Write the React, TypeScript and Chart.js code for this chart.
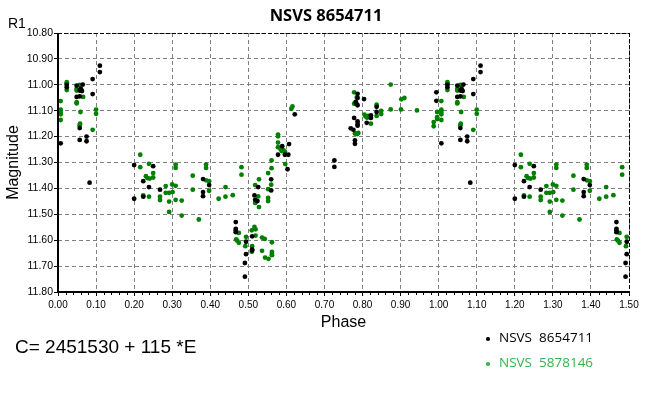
import React, { useEffect, useRef } from "react";
import { Chart, registerables } from "chart.js";

Chart.register(...registerables);

const TITLE = "NSVS 8654711";
const Y_LABEL = "R1";
const Y_TITLE = "Magnitude";
const X_TITLE = "Phase";
const EPOCH_TEXT = "C= 2451530 + 115 *E";
const SERIES_NAMES = ["NSVS  8654711", "NSVS  5878146"];
const X_MIN = 0;
const X_MAX = 1.5;
const Y_MIN = 10.8;
const Y_MAX = 11.8;
const MINOR_STEP = 0.02;

// NSVS 8654711 (black), phase in [0,1)
const blackPhase = [
  0.007, 0.023, 0.023, 0.049, 0.049, 0.057, 0.057, 0.060, 0.063, 0.065,
  0.057, 0.057, 0.075, 0.075, 0.083, 0.091, 0.091, 0.110, 0.110, 0.200,
  0.200, 0.224, 0.224, 0.239, 0.250, 0.268, 0.381, 0.381, 0.381, 0.397,
  0.467, 0.467, 0.467, 0.467, 0.491, 0.491, 0.494, 0.494, 0.510, 0.510,
  0.510, 0.516, 0.518, 0.524, 0.526, 0.560, 0.560, 0.578, 0.589, 0.596,
  0.605, 0.607, 0.603, 0.622, 0.726, 0.726, 0.769, 0.776, 0.778, 0.780,
  0.780, 0.782, 0.784, 0.787, 0.787, 0.787, 0.787, 0.787, 0.787, 0.804,
  0.811, 0.822, 0.822, 0.837, 0.837, 0.994, 0.994,
];
const blackMag = [
  11.226, 11.000, 11.009, 11.003, 11.047, 11.045, 11.022, 11.015, 11.024, 10.999,
  11.167, 11.213, 11.200, 11.218, 11.378, 10.978, 11.036, 10.926, 10.951, 11.310,
  11.440, 11.372, 11.432, 11.395, 11.314, 11.405, 11.364, 11.414, 11.430, 11.387,
  11.530, 11.556, 11.563, 11.569, 11.688, 11.741, 11.606, 11.654, 11.585, 11.636,
  11.640, 11.427, 11.444, 11.449, 11.395, 11.365, 11.408, 11.270, 11.237, 11.270,
  11.270, 11.229, 11.326, 11.114, 11.292, 11.317, 11.168, 11.174, 11.128, 11.215,
  11.228, 11.066, 11.073, 11.035, 11.051, 11.079, 11.141, 11.151, 11.158, 11.055,
  11.147, 11.118, 11.128, 11.085, 11.105, 11.029, 11.062,
];

// NSVS 5878146 (green), phase in [0,1)
const greenPhase = [
  0.007, 0.007, 0.007, 0.007, 0.007, 0.023, 0.023, 0.023, 0.049, 0.049,
  0.049, 0.049, 0.057, 0.059, 0.058, 0.057, 0.066, 0.091, 0.100, 0.100,
  0.216, 0.216, 0.231, 0.235, 0.239, 0.241, 0.250, 0.250, 0.224, 0.239,
  0.268, 0.268, 0.283, 0.283, 0.292, 0.292, 0.292, 0.300, 0.309, 0.301,
  0.309, 0.309, 0.309, 0.325, 0.325, 0.354, 0.354, 0.370, 0.389, 0.389,
  0.389, 0.397, 0.397, 0.422, 0.440, 0.440, 0.459, 0.482, 0.482, 0.468,
  0.471, 0.475, 0.475, 0.492, 0.494, 0.509, 0.509, 0.510, 0.516, 0.519,
  0.519, 0.518, 0.518, 0.526, 0.528, 0.528, 0.536, 0.543, 0.536, 0.544,
  0.553, 0.552, 0.552, 0.552, 0.552, 0.560, 0.561, 0.561, 0.562, 0.562,
  0.562, 0.562, 0.578, 0.578, 0.578, 0.578, 0.585, 0.588, 0.592, 0.596,
  0.597, 0.613, 0.616, 0.778, 0.778, 0.785, 0.780, 0.786, 0.789, 0.805,
  0.808, 0.812, 0.815, 0.822, 0.837, 0.837, 0.849, 0.849, 0.874, 0.874,
  0.902, 0.910, 0.901, 0.943, 0.987, 0.987, 0.996, 0.996, 0.996,
];
const greenMag = [
  11.063, 11.096, 11.105, 11.114, 11.136, 10.990, 10.996, 11.020, 11.015, 11.022,
  11.067, 11.072, 11.000, 11.105, 11.150, 11.156, 11.047, 11.174, 11.096, 11.112,
  11.270, 11.318, 11.353, 11.360, 11.305, 11.362, 11.358, 11.341, 11.427, 11.432,
  11.432, 11.445, 11.391, 11.417, 11.417, 11.451, 11.491, 11.385, 11.390, 11.414,
  11.308, 11.321, 11.444, 11.447, 11.505, 11.351, 11.405, 11.520, 11.308, 11.321,
  11.369, 11.372, 11.409, 11.440, 11.395, 11.432, 11.426, 11.318, 11.347, 11.597,
  11.602, 11.572, 11.610, 11.623, 11.587, 11.562, 11.645, 11.623, 11.549, 11.558,
  11.582, 11.387, 11.456, 11.431, 11.365, 11.472, 11.590, 11.595, 11.641, 11.667,
  11.672, 11.341, 11.403, 11.437, 11.449, 11.386, 11.292, 11.322, 11.608, 11.645,
  11.652, 11.658, 11.192, 11.199, 11.223, 11.241, 11.250, 11.256, 11.252, 11.258,
  11.306, 11.092, 11.083, 11.029, 11.073, 11.049, 11.188, 11.190, 11.186, 11.115,
  11.122, 11.127, 11.120, 11.150, 11.077, 11.120, 11.101, 11.113, 10.999, 11.095,
  11.056, 11.051, 11.095, 11.099, 11.144, 11.160, 11.105, 11.125, 11.132,
];

// Phase-folded plot: each observation shown at phase p and again at p + 1 (within range)
function foldPoints(phase: number[], mag: number[]) {
  const pts: { x: number; y: number }[] = [];
  phase.forEach((p, i) => {
    pts.push({ x: p, y: mag[i] });
    if (p + 1 <= X_MAX) pts.push({ x: p + 1, y: mag[i] });
  });
  return pts;
}

const framePlugin = {
  id: "frame",
  afterDraw(chart: any) {
    const { ctx, chartArea: a, scales } = chart;
    ctx.save();
    // dashed top & right border
    ctx.strokeStyle = "#000";
    ctx.lineWidth = 1;
    ctx.setLineDash([4, 2]);
    ctx.beginPath();
    ctx.moveTo(a.left, a.top + 0.5);
    ctx.lineTo(a.right, a.top + 0.5);
    ctx.moveTo(a.right + 0.5, a.top);
    ctx.lineTo(a.right + 0.5, a.bottom);
    ctx.stroke();
    // solid left & bottom axes
    ctx.setLineDash([]);
    ctx.lineWidth = 2;
    ctx.beginPath();
    ctx.moveTo(a.left, a.top);
    ctx.lineTo(a.left, a.bottom);
    ctx.lineTo(a.right + 1, a.bottom);
    ctx.stroke();
    // minor ticks on x axis
    const xs = scales.x;
    ctx.lineWidth = 1;
    ctx.beginPath();
    const n = Math.round((X_MAX - X_MIN) / MINOR_STEP);
    for (let i = 0; i <= n; i++) {
      if (i % 5 === 0) continue;
      const px = Math.round(xs.getPixelForValue(X_MIN + i * MINOR_STEP)) + 0.5;
      ctx.moveTo(px, a.bottom);
      ctx.lineTo(px, a.bottom + 3);
    }
    ctx.stroke();
    ctx.restore();
  },
};

export default function App() {
  const ref = useRef<HTMLCanvasElement | null>(null);

  useEffect(() => {
    if (!ref.current) return;
    const tickFont = { family: "'Liberation Sans', Arial, sans-serif", size: 10.5 };
    const chart = new Chart(ref.current, {
      type: "scatter",
      data: {
        datasets: [
          {
            label: SERIES_NAMES[0],
            data: foldPoints(blackPhase, blackMag),
            backgroundColor: "#000000",
            borderWidth: 0,
            pointRadius: 2.4,
          },
          {
            label: SERIES_NAMES[1],
            data: foldPoints(greenPhase, greenMag),
            backgroundColor: "#008000",
            borderWidth: 0,
            pointRadius: 2.4,
          },
        ],
      },
      options: {
        animation: false,
        responsive: false,
        devicePixelRatio: 1,
        layout: { padding: { top: 33, right: 19, left: 0, bottom: 66 } },
        plugins: {
          legend: { display: false },
          tooltip: { enabled: false },
          title: { display: false },
        },
        scales: {
          x: {
            type: "linear",
            min: X_MIN,
            max: X_MAX,
            ticks: {
              stepSize: 0.1,
              callback: (v: any) => Number(v).toFixed(2),
              font: { ...tickFont, size: 10 },
              color: "#000",
              padding: 3,
              maxRotation: 0,
              autoSkip: false,
            },
            grid: {
              color: "#808080",
              tickColor: "#000",
              tickLength: 4,
              lineWidth: 1,
            },
            border: { display: false, dash: [4, 3] },
            title: {
              display: true,
              text: X_TITLE,
              font: { family: "'Liberation Sans', Arial, sans-serif", size: 16 },
              color: "#000",
              padding: 0,
            },
            afterFit: (s: any) => {
              s.height = 40;
            },
          },
          y: {
            type: "linear",
            min: Y_MIN,
            max: Y_MAX,
            reverse: true,
            ticks: {
              stepSize: 0.1,
              callback: (v: any) => Number(v).toFixed(2),
              font: tickFont,
              color: "#000",
              padding: 1,
              autoSkip: false,
            },
            grid: {
              color: "#808080",
              tickColor: "#000",
              tickLength: 4,
              lineWidth: 1,
            },
            border: { display: false, dash: [4, 3] },
            title: {
              display: true,
              text: Y_TITLE,
              font: { family: "'Liberation Sans', Arial, sans-serif", size: 16 },
              color: "#000",
              padding: { top: 4, bottom: 0 },
            },
            afterFit: (s: any) => {
              s.width = 58;
            },
          },
        },
      },
      plugins: [framePlugin],
    });
    return () => chart.destroy();
  }, []);

  const arial = "'Liberation Sans', Arial, sans-serif";
  const segoe = "'Open Sans', 'Liberation Sans', sans-serif";

  return (
    <div
      style={{
        position: "fixed",
        left: 0,
        top: 0,
        width: 648,
        height: 398,
        background: "#fff",
        overflow: "hidden",
      }}
    >
      <canvas ref={ref} width={648} height={398} style={{ position: "absolute", left: 0, top: 0, width: 648, height: 398 }} />
      <div
        style={{
          position: "absolute",
          left: 0,
          width: 652,
          top: 7,
          textAlign: "center",
          fontFamily: segoe,
          fontWeight: 700,
          fontSize: 16.5,
          lineHeight: "16.5px",
          color: "#000",
          whiteSpace: "pre",
        }}
      >
        {TITLE}
      </div>
      <div
        style={{
          position: "absolute",
          left: 8,
          top: 16,
          fontFamily: arial,
          fontSize: 14,
          lineHeight: "14px",
          color: "#000",
        }}
      >
        {Y_LABEL}
      </div>
      <div
        style={{
          position: "absolute",
          left: 15,
          top: 337,
          fontFamily: arial,
          fontSize: 19,
          lineHeight: "19px",
          color: "#000",
          whiteSpace: "pre",
        }}
      >
        {EPOCH_TEXT}
      </div>
      <div style={{ position: "absolute", left: 486, top: 337, width: 3.5, height: 3.5, borderRadius: "50%", background: "#000" }} />
      <div
        style={{
          position: "absolute",
          left: 499,
          top: 331,
          fontFamily: segoe,
          fontSize: 13.5,
          lineHeight: "13.5px",
          color: "#000",
          whiteSpace: "pre",
        }}
      >
        {SERIES_NAMES[0]}
      </div>
      <div style={{ position: "absolute", left: 486, top: 362, width: 3.5, height: 3.5, borderRadius: "50%", background: "#33b44a" }} />
      <div
        style={{
          position: "absolute",
          left: 499,
          top: 356,
          fontFamily: segoe,
          fontSize: 13.5,
          lineHeight: "13.5px",
          color: "#33b44a",
          whiteSpace: "pre",
        }}
      >
        {SERIES_NAMES[1]}
      </div>
    </div>
  );
}
